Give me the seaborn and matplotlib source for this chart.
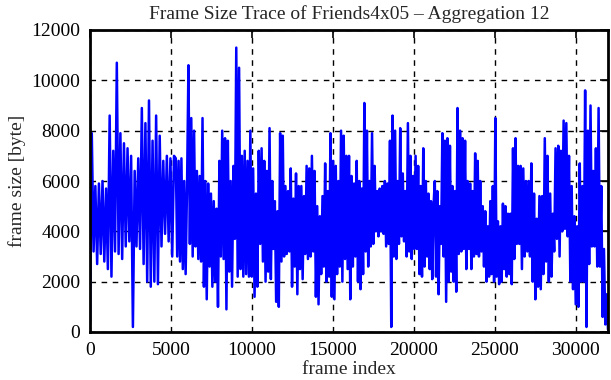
import numpy as np
import pandas as pd
import matplotlib
matplotlib.use("Agg")
import matplotlib.pyplot as plt
import seaborn as sns

title = "Frame Size Trace of Friends4x05 \u2013 Aggregation 12"
x_label = "frame index"
y_label = "frame size [byte]"
x_ticks = [0, 5000, 10000, 15000, 20000, 25000, 30000]
y_ticks = [0, 2000, 4000, 6000, 8000, 10000, 12000]

# frame-index ranges covered by each read-off segment
seg_edges = [0, 5300, 10600, 16000, 21300, 26600, 32000]

seg1 = [300, 7900, 3200, 5800, 2700, 5900, 3100, 6000, 2800, 5700, 2500,
        8600, 2200, 7200, 3200, 10700, 3100, 7900, 2900, 7500, 3400, 7300, 3600, 7000, 200, 6400,
        3400, 6900, 3300, 8900, 2700, 8300, 2000, 9200, 1800, 7600, 2000, 8600, 1900, 7800, 3400,
        6800, 3900, 7000, 3600, 6900, 3000, 7000]
seg2 = [6900, 3000, 6800, 2800, 6900, 2500, 6000, 2300, 5800, 10600, 3500, 8500, 3000, 8000, 3400,
        6400, 2900, 6200, 2800, 8500, 1800, 6000, 1300, 5900, 2600, 5500, 1800, 5200, 2000, 4900,
        1000, 6800, 3000, 8000, 2900, 7700, 900, 7600, 2400, 6000, 1800, 6600, 3700, 11300, 2200,
        10500, 2500, 7000, 2200, 7200, 2300, 6800, 2200, 8000, 2200, 6500, 1400, 5500, 1800, 7200, 3500]
seg3 = [7300, 2800, 6800, 2000, 6400, 2400, 8100, 2100, 6000, 3300, 5200, 1200, 4800, 1000, 7900,
        2800, 7800, 3000, 5800, 3100, 5600, 3200, 6500, 1800, 5300, 2600, 6300, 1500, 5800, 2500,
        5800, 2100, 5400, 3100, 6600, 2900, 6500, 3000, 7000, 3200, 6400, 1400, 5000, 1100, 4600,
        2300, 5400, 2600, 6700, 2000, 5600, 2200, 7900, 1400, 6800, 1300, 6600, 2300, 6000, 2600,
        8000, 2000, 7800, 2900, 7000, 2500]
seg4 = [7000, 1300, 6200, 2600, 5900, 3000, 6800, 2000, 6000, 1700, 5700, 2300, 9100, 3200, 8000,
        2600, 6000, 3400, 7900, 3500, 6600, 4000, 5600, 3800, 5700, 4000, 5800, 3900, 6000, 3400,
        5900, 3500, 7600, 200, 8600, 3000, 8000, 2900, 6000, 3500, 8100, 3800, 6300, 3600, 5600,
        3000, 8300, 3200, 7000, 2900, 6200, 3300, 7000, 3300, 6600, 2300, 5800, 2200, 7300, 2600,
        6000, 3000, 5500, 2500, 5200, 2100, 5000]
seg5 = [6000, 2200, 5600, 1500, 5000, 3500, 7900, 3000, 7600, 1200, 7700, 2000, 7400, 2400, 5800,
        2000, 5600, 1600, 8900, 3100, 8000, 3200, 7700, 3300, 7600, 2500, 6000, 3300, 5900, 2500,
        5600, 3000, 7100, 3100, 6800, 3000, 6000, 3200, 5000, 2600, 4800, 2000, 4200, 2200, 5200,
        2300, 5800, 2000, 8500, 2200, 4400, 1900, 4200, 2000, 5100, 2500, 5000, 2200, 4700, 2300,
        4700, 1900, 7300, 2900, 7700, 3500, 6600, 3500]
seg6 = [6600, 2500, 6500, 3000, 6000, 3200, 6000, 3000, 6700, 2000, 5500, 1300, 4500, 1800, 5400,
        1700, 5400, 2300, 7700, 2800, 7000, 2000, 5500, 2200, 4700, 3200, 7300, 3700, 7400, 3000,
        7200, 4000, 8400, 4100, 8300, 3800, 7000, 2000, 5800, 1700, 4600, 1100, 4200, 1000, 6700,
        2000, 5800, 2000, 9600, 200, 8000, 2700, 9000, 3400, 6400, 3400, 7300, 2600, 8900, 2600,
        5800, 600, 3300, 300, 1500, 100]

segments = [seg1, seg2, seg3, seg4, seg5, seg6]
xs, ys = [], []
for k, seg in enumerate(segments):
    last = k == len(segments) - 1
    xs.append(np.linspace(seg_edges[k], seg_edges[k + 1], len(seg), endpoint=last))
    ys.append(np.asarray(seg, dtype=float))
df = pd.DataFrame({"frame index": np.concatenate(xs), "frame size": np.concatenate(ys)})

sns.set_style("white")
plt.rcParams["font.family"] = ["Liberation Serif", "DejaVu Serif"]

fig = plt.figure(figsize=(6.11, 3.80), dpi=100)
ax = fig.add_axes([90 / 611, 48 / 380, 518 / 611, 302 / 380])
sns.lineplot(data=df, x="frame index", y="frame size", color="#0000ff",
             linewidth=1.8, ax=ax, estimator=None, sort=False)
ax.set_xlim(0, 32000)
ax.set_ylim(0, 12000)
ax.set_xticks(x_ticks)
ax.set_yticks(y_ticks)
ax.grid(True, linestyle=(0, (4, 4)), color="black", linewidth=1.0)
ax.set_axisbelow(True)
ax.tick_params(direction="in", length=6, width=1.2, top=True, right=True,
               labelsize=14, pad=7, colors="black")
for s in ax.spines.values():
    s.set_linewidth(2)
    s.set_color("black")
ax.set_title(title, fontsize=14, pad=8)
ax.set_xlabel(x_label, fontsize=14, labelpad=2)
ax.set_ylabel(y_label, fontsize=14, labelpad=4)
fig.savefig("out.png", dpi=100)
